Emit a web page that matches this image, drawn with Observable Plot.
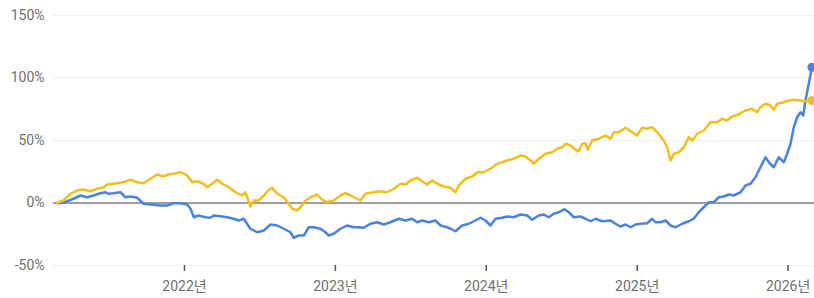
<!DOCTYPE html>
<html>
<head>
<meta charset="utf-8">
<script src="https://cdn.jsdelivr.net/npm/d3@7"></script>
<script src="https://cdn.jsdelivr.net/npm/@observablehq/plot@0.6"></script>
<style>
  html, body { margin: 0; padding: 0; background: #fff; }
  #chart { width: 814px; height: 298px; }
</style>
</head>
<body>
<div id="chart"></div>
<script>
// time in decimal years, values in percent
const yellowT = [2021.156,2021.198,2021.245,2021.289,2021.331,2021.377,2021.421,2021.463,2021.488,2021.554,2021.596,2021.642,2021.687,2021.728,2021.775,2021.819,2021.861,2021.894,2021.927,2021.974,2022.018,2022.051,2022.084,2022.126,2022.150,2022.184,2022.217,2022.250,2022.294,2022.338,2022.382,2022.404,2022.437,2022.459,2022.492,2022.526,2022.559,2022.581,2022.614,2022.658,2022.691,2022.714,2022.747,2022.769,2022.802,2022.835,2022.879,2022.913,2022.946,2022.989,2023.034,2023.067,2023.100,2023.144,2023.166,2023.199,2023.254,2023.299,2023.343,2023.387,2023.431,2023.465,2023.498,2023.542,2023.575,2023.608,2023.641,2023.675,2023.718,2023.763,2023.796,2023.818,2023.862,2023.907,2023.940,2023.983,2024.028,2024.072,2024.105,2024.139,2024.182,2024.227,2024.260,2024.293,2024.315,2024.348,2024.392,2024.437,2024.470,2024.503,2024.525,2024.558,2024.591,2024.613,2024.636,2024.657,2024.673,2024.702,2024.746,2024.790,2024.823,2024.845,2024.878,2024.923,2024.967,2025.000,2025.033,2025.066,2025.099,2025.133,2025.176,2025.199,2025.221,2025.243,2025.276,2025.309,2025.342,2025.365,2025.398,2025.441,2025.486,2025.530,2025.563,2025.596,2025.630,2025.673,2025.718,2025.762,2025.795,2025.817,2025.850,2025.883,2025.905,2025.928,2025.972,2026.005,2026.038,2026.082,2026.127,2026.158];
const yellowV = [0.2,2.0,7.4,10.0,10.8,9.4,11.4,12.6,14.8,15.8,16.6,18.6,16.6,15.8,19.4,22.8,21.2,22.8,23.4,24.6,22.0,16.6,17.4,15.4,12.6,15.4,18.6,15.4,12.6,8.6,6.0,8.6,-2.8,2.0,2.0,6.0,10.6,12.2,7.4,4.6,-0.6,-4.6,-6.0,-3.4,2.0,4.6,6.8,2.6,0.6,2.0,6.0,7.8,6.0,3.4,2.0,7.4,8.6,9.4,8.6,11.4,15.4,14.8,18.0,20.2,17.4,14.8,18.0,15.4,13.2,12.2,8.6,14.0,19.4,21.2,24.6,24.6,27.4,31.4,32.6,34.0,35.4,38.0,37.2,34.0,31.4,35.4,39.4,40.6,43.4,44.6,47.4,46.0,42.6,41.4,47.4,47.8,42.6,50.0,51.4,54.0,51.4,56.6,56.6,60.2,56.6,54.0,60.2,59.4,60.6,56.6,50.0,44.6,34.0,39.4,40.6,44.6,52.6,50.0,55.4,58.0,64.6,64.6,67.4,66.0,69.2,70.8,74.0,75.4,72.6,76.6,79.4,78.0,74.6,79.4,80.6,82.0,82.6,82.0,81.4,82.0];

const blueT = [2021.156,2021.198,2021.264,2021.311,2021.355,2021.397,2021.443,2021.476,2021.496,2021.529,2021.576,2021.609,2021.642,2021.687,2021.728,2021.775,2021.841,2021.885,2021.927,2021.974,2022.018,2022.040,2022.062,2022.093,2022.139,2022.172,2022.194,2022.239,2022.283,2022.327,2022.360,2022.393,2022.437,2022.482,2022.526,2022.570,2022.614,2022.658,2022.702,2022.724,2022.757,2022.791,2022.824,2022.857,2022.901,2022.934,2022.956,2022.989,2023.034,2023.078,2023.122,2023.144,2023.188,2023.233,2023.277,2023.321,2023.365,2023.420,2023.465,2023.509,2023.542,2023.575,2023.619,2023.663,2023.697,2023.741,2023.763,2023.796,2023.840,2023.884,2023.928,2023.962,2023.995,2024.028,2024.061,2024.105,2024.139,2024.182,2024.227,2024.271,2024.304,2024.348,2024.381,2024.414,2024.447,2024.480,2024.518,2024.547,2024.580,2024.624,2024.657,2024.691,2024.724,2024.768,2024.823,2024.856,2024.889,2024.923,2024.956,2024.989,2025.022,2025.066,2025.099,2025.121,2025.154,2025.188,2025.221,2025.254,2025.298,2025.342,2025.375,2025.408,2025.441,2025.475,2025.508,2025.541,2025.574,2025.607,2025.640,2025.685,2025.718,2025.751,2025.784,2025.817,2025.850,2025.872,2025.905,2025.938,2025.972,2025.994,2026.016,2026.038,2026.060,2026.082,2026.100,2026.115,2026.137,2026.158];
const blueV = [-0.2,0.2,3.4,6.0,4.6,6.0,7.8,8.6,7.4,7.8,8.6,4.6,5.2,4.2,-0.6,-1.2,-2.0,-2.0,-0.2,-0.2,-1.2,-4.6,-11.4,-10.0,-11.4,-11.8,-10.0,-10.6,-11.4,-12.6,-14.0,-12.6,-20.6,-23.4,-22.0,-17.2,-18.0,-20.6,-23.4,-27.8,-26.0,-26.0,-19.4,-19.4,-20.6,-23.4,-26.0,-24.6,-20.6,-18.0,-19.4,-19.4,-19.8,-16.6,-15.4,-17.2,-15.4,-12.6,-14.0,-12.6,-15.4,-14.0,-15.4,-14.0,-18.0,-19.4,-20.6,-22.6,-18.0,-16.6,-14.0,-11.8,-14.0,-18.0,-12.6,-11.8,-10.8,-11.4,-9.2,-10.0,-13.4,-10.0,-9.2,-11.4,-8.6,-7.4,-5.0,-7.4,-11.4,-10.8,-12.6,-14.6,-12.6,-14.6,-14.0,-16.6,-18.8,-17.2,-19.4,-17.2,-16.6,-16.2,-12.6,-15.4,-15.4,-14.0,-18.0,-19.4,-16.6,-14.6,-12.6,-7.4,-3.4,0.6,0.6,4.6,5.2,6.8,6.0,8.6,14.0,15.4,20.6,28.6,36.6,32.6,28.6,36.6,32.6,39.4,47.4,60.6,68.6,72.6,70.0,82.0,95.4,108.6];

const yTicks = [-50, 0, 50, 100, 150];
const xTicks = [2022, 2023, 2024, 2025, 2026];
const xDomain = [2021.132, 2026.175];

const blueColor = "#4a83dc";
const yellowColor = "#f2be1e";

const yellow = yellowT.map((t, i) => ({t, v: yellowV[i]}));
const blue = blueT.map((t, i) => ({t, v: blueV[i]}));

const chart = Plot.plot({
  width: 814,
  height: 298,
  marginLeft: 53,
  marginRight: 0,
  marginTop: 15,
  marginBottom: 33,
  style: {fontFamily: "Roboto, 'Noto Sans CJK KR', sans-serif", fontSize: "14px", color: "#707070", background: "#fff"},
  x: {type: "linear", domain: xDomain},
  y: {domain: [-50, 150]},
  marks: [
    Plot.gridY(yTicks, {stroke: "#efefef", strokeOpacity: 1}),
    Plot.ruleY([0], {stroke: "#444", strokeWidth: 1}),
    Plot.axisY({ticks: yTicks, tickSize: 0, tickPadding: 9, tickFormat: d => d + "%", label: null, fontSize: 14}),
    Plot.axisX({ticks: xTicks, tickSize: 6, tickPadding: 10, tickFormat: d => d + "년", label: null, fontSize: 14, stroke: "#555", strokeWidth: 1.5}),
    Plot.line(blue, {x: "t", y: "v", stroke: blueColor, strokeWidth: 2.5, strokeLinejoin: "round"}),
    Plot.line(yellow, {x: "t", y: "v", stroke: yellowColor, strokeWidth: 2.5, strokeLinejoin: "round"}),
    Plot.dot(blue.slice(-1), {x: "t", y: "v", r: 4.5, fill: blueColor}),
    Plot.dot(yellow.slice(-1), {x: "t", y: "v", r: 4.5, fill: yellowColor})
  ]
});
document.getElementById("chart").appendChild(chart);
</script>
</body>
</html>
